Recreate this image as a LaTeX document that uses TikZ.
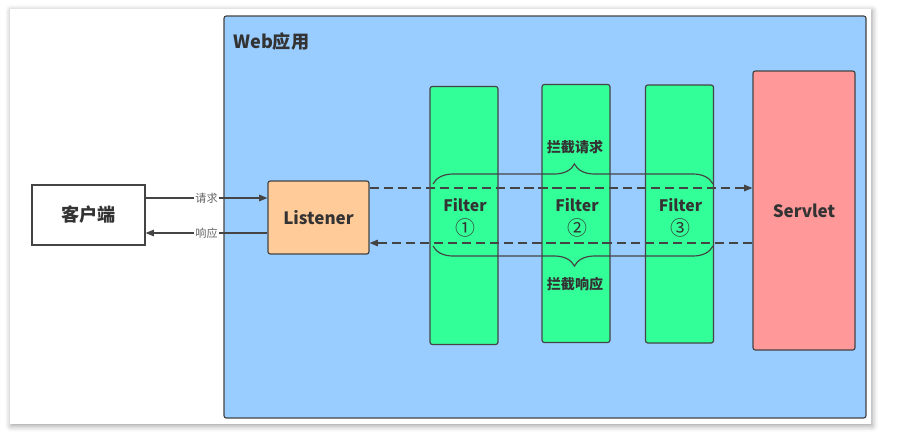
\documentclass[tikz,border=0pt]{standalone}
\usepackage{fontspec}
\setmainfont{Noto Sans CJK SC}
\usepackage{tikz}
\usetikzlibrary{arrows.meta, positioning, calc, decorations.pathreplacing, shadows.blur}
\definecolor{webblue}{HTML}{99CCFF}
\definecolor{listenerorange}{HTML}{FFCC99}
\definecolor{filtergreen}{HTML}{33FF99}
\definecolor{servletred}{HTML}{FF9999}
\definecolor{inkgray}{HTML}{444444}
\definecolor{textgray}{HTML}{333333}
\definecolor{labelgray}{HTML}{666666}

\tikzset{
  box/.style={draw=inkgray, line width=1pt, rounded corners=2pt, inner sep=0pt},
  filterbox/.style={box, fill=filtergreen, minimum width=68*0.03cm, minimum height=258*0.03cm},
  boxtext/.style={text=textgray, font=\fontsize{14.5}{16}\selectfont\bfseries},
  filtertext/.style={text=textgray, font=\fontsize{13.5}{15}\selectfont\bfseries},
  numtext/.style={text=textgray, font=\fontsize{17}{18}\selectfont},
  flow/.style={inkgray, line width=1pt, -{Triangle[length=7pt,width=5.5pt]}},
  dashflow/.style={flow, dash pattern=on 8pt off 4pt},
  flowlabel/.style={fill=white, text=labelgray, inner sep=1pt, font=\fontsize{9.5}{10}\selectfont},
  bracelabel/.style={text=textgray, font=\fontsize{12}{13}\selectfont\bfseries}
}

\begin{document}
\begin{tikzpicture}[x=0.03cm, y=-0.03cm]
  \useasboundingbox (0,0) rectangle (906,439);

  % card with shadow
  \fill[white, blur shadow={shadow xshift=1pt, shadow yshift=-1.5pt, shadow blur radius=5pt, shadow opacity=40}]
    (10,9) rectangle (871,424);

  % web application frame
  \node[box, fill=webblue, minimum width=642*0.03cm, minimum height=402*0.03cm] (webapp) at (545,217) {};
  \node[anchor=west, inner sep=0pt, text=textgray, font=\fontsize{15.5}{17}\selectfont\bfseries] (webtitle) at (233,42) {Web应用};

  % client, listener and servlet
  \node[box, fill=white, rounded corners=0pt, minimum width=113*0.03cm, minimum height=60*0.03cm, boxtext, font=\fontsize{15.5}{17}\selectfont\bfseries] (client) at (88.5,215) {客户端};
  \node[box, fill=listenerorange, minimum width=101*0.03cm, minimum height=73*0.03cm, boxtext] (listener) at (318.5,217.5) {Listener};
  \node[box, fill=servletred, minimum width=102*0.03cm, minimum height=279*0.03cm, boxtext] (servlet) at (804,210.5) {Servlet};

  % the filter chain
  \foreach \x/\y/\num [count=\i] in {464/215.5/①, 576/213.5/②, 679.5/214/③} {
    \node[filterbox] (filter\i) at (\x,\y) {};
    \node[filtertext] (filtername\i) at (\x+1,205) {Filter};
    \node[numtext] (filternum\i) at (\x+1,228) {\num};
  }

  % client <-> listener
  \draw[flow] (client.east |- 0,198) -- node[flowlabel] (reqlabel) {请求} (listener.west |- 0,198);
  \draw[flow] (listener.west |- 0,233) -- node[flowlabel] (resplabel) {响应} (client.east |- 0,233);

  % listener <-> servlet through the filters
  \draw[dashflow] (listener.east |- 0,188) -- (servlet.west |- 0,188);
  \draw[dashflow] (servlet.west |- 0,243) -- (listener.east |- 0,243);

  % braces
  \coordinate (bracetopleft) at (433,184);
  \coordinate (bracetopright) at (713,184);
  \coordinate (bracebotleft) at (433,246);
  \coordinate (bracebotright) at (713,246);
  \draw[inkgray, line width=1pt, decorate, decoration={brace, amplitude=6mm, aspect=0.505}]
    (bracetopleft) -- (bracetopright);
  \draw[inkgray, line width=1pt, decorate, decoration={brace, mirror, amplitude=6mm, aspect=0.505}]
    (bracebotleft) -- (bracebotright);
  \node[bracelabel] (reqbrace) at (575,147) {拦截请求};
  \node[bracelabel] (respbrace) at (575,284) {拦截响应};
\end{tikzpicture}
\end{document}
